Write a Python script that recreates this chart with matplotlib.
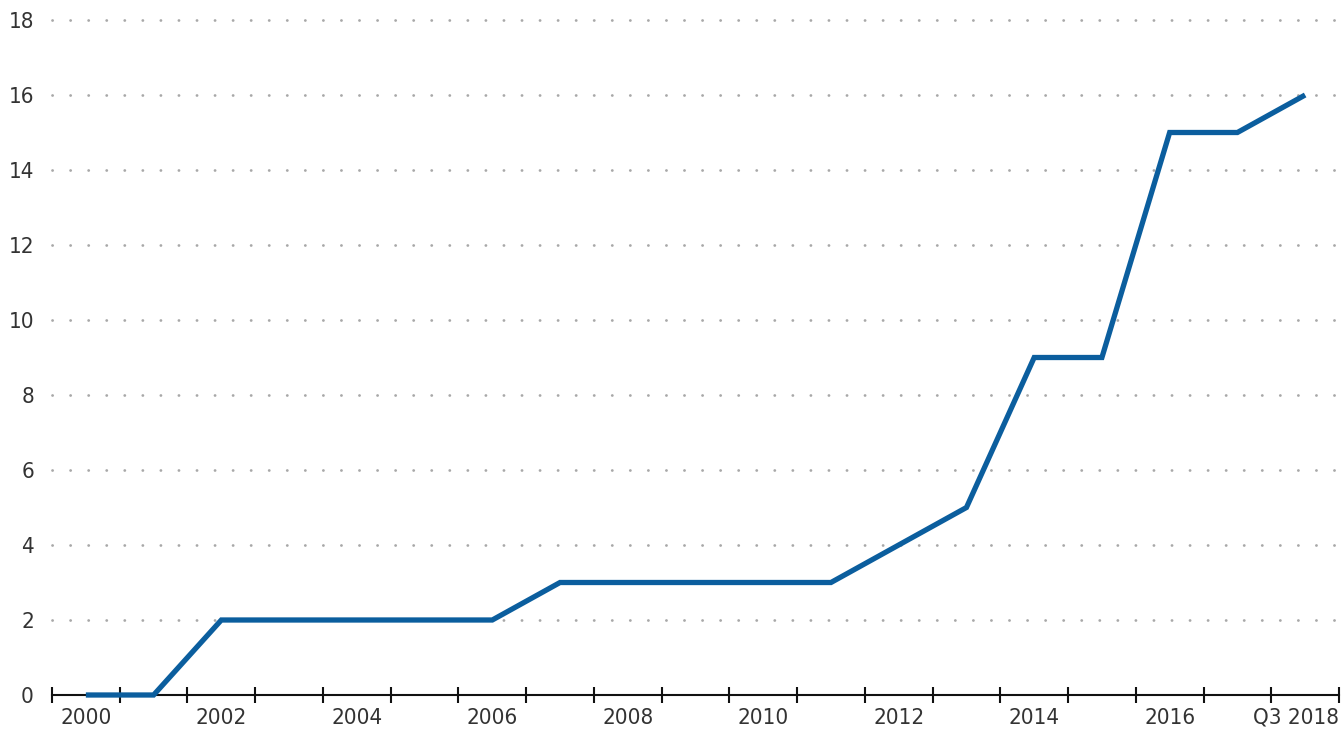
import matplotlib
matplotlib.use('Agg')
import matplotlib.pyplot as plt
from matplotlib import font_manager
import os

years = list(range(2000, 2019))
values = [0, 0, 2, 2, 2, 2, 2, 3, 3, 3, 3, 3, 4, 5, 9, 9, 15, 15, 16]
label_years = [2000, 2002, 2004, 2006, 2008, 2010, 2012, 2014, 2016]
label_texts = ['2000', '2002', '2004', '2006', '2008', '2010', '2012', '2014', '2016']
last_label = 'Q3 2018'
y_ticks = [0, 2, 4, 6, 8, 10, 12, 14, 16, 18]

LINE = '#0B5E9E'
TEXT = '#333333'
GRID = '#A8A8A8'

# look for a narrow / condensed face installed on the system
wanted = ['LiberationSansNarrow-Regular', 'DejaVuSansCondensed.', 'RobotoCondensed-Regular',
          'Roboto_Condensed-Regular', 'OpenSans_Condensed-Regular', 'OpenSansCondensed']
family = 'DejaVu Sans'
stretch = 'normal'
files = font_manager.findSystemFonts()
found = False
for w in wanted:
    for f in files:
        if w in os.path.basename(f):
            font_manager.fontManager.addfont(f)
            fp = font_manager.FontProperties(fname=f)
            family = fp.get_name()
            stretch = font_manager.ttfFontProperty(font_manager.get_font(f)).stretch
            found = True
            break
    if found:
        break

plt.rcParams['font.family'] = [family, 'DejaVu Sans']
plt.rcParams['font.stretch'] = stretch
plt.rcParams['lines.scale_dashes'] = False
size = 16 if found else 14

fig = plt.figure(figsize=(13.42, 7.40), dpi=100)
ax = fig.add_axes([52 / 1342, 45 / 740, 1287 / 1342, 675 / 740])

# dotted gridlines
for y in y_ticks[1:]:
    ax.axhline(y, color=GRID, linewidth=2.0, dashes=(0.1, 12.9),
               dash_capstyle='round', zorder=1, clip_on=False)

x = [yr + 0.5 for yr in years]
ax.plot(x, values, color=LINE, linewidth=3.8, solid_capstyle='butt',
        solid_joinstyle='miter', zorder=3, clip_on=False)

ax.set_xlim(2000, 2019)
ax.set_ylim(0, 18)

for s in ['left', 'right', 'top']:
    ax.spines[s].set_visible(False)
ax.spines['bottom'].set_color('#111111')
ax.spines['bottom'].set_linewidth(1.5)
ax.spines['bottom'].set_zorder(2)

ax.set_xticks(list(range(2000, 2020)))
ax.set_xticklabels([])
ax.tick_params(axis='x', which='major', direction='inout', length=11,
               width=1.5, color='#111111')
ax.set_xticks([yr + 0.5 for yr in label_years], minor=True)
ax.set_xticklabels(label_texts, minor=True)
ax.tick_params(axis='x', which='minor', length=0, pad=9,
               labelsize=size, labelcolor=TEXT)

# last label sits flush with the right end of the axis
ax.annotate(last_label, xy=(2019, 0), xycoords=('data', 'axes fraction'),
            xytext=(0, -9), textcoords='offset points', ha='right', va='top',
            fontsize=size, color=TEXT, annotation_clip=False)

ax.set_yticks(y_ticks)
ax.set_yticklabels([str(v) for v in y_ticks])
ax.tick_params(axis='y', length=0, pad=13, labelsize=size, labelcolor=TEXT)

fig.savefig('out.png', dpi=100, facecolor='white')
